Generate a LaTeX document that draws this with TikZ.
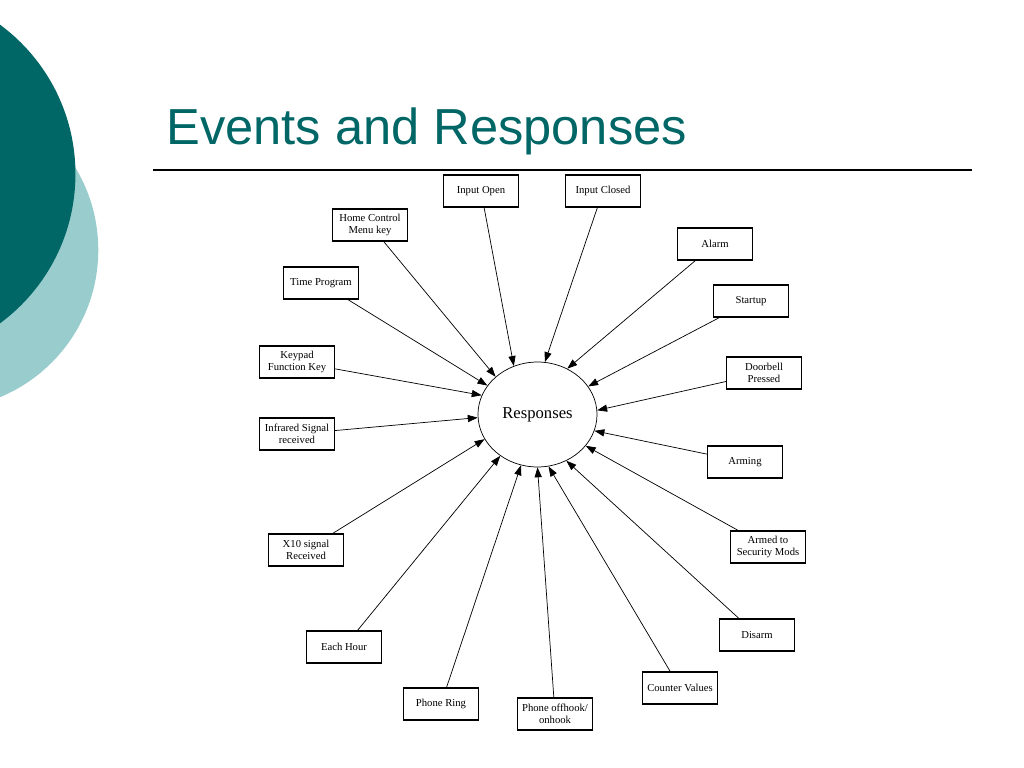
\documentclass[tikz,border=0pt]{standalone}
\usepackage{fontspec}
\setmainfont{Liberation Serif}
\newfontfamily\titlefont{Liberation Sans}
\usetikzlibrary{arrows.meta,shapes.geometric}
\definecolor{slideteal}{RGB}{0,102,102}
\definecolor{slidelight}{RGB}{153,204,204}
\tikzset{
	event/.style={draw, line width=1pt, minimum width=52.7pt, minimum height=22.5pt,
		inner sep=1pt, align=center, font=\fontsize{7.5}{8.4}\selectfont},
	flow/.style={-{Triangle[length=7pt,width=5pt]}, line width=0.5pt},
}
\begin{document}
\begin{tikzpicture}[x=0.703125pt,y=-0.703125pt]

			\useasboundingbox (0,0) rectangle (1024,768);

			% slide decoration
			\fill[slidelight] (-61,250) circle[radius=112pt];
			\fill[slideteal] (-110,174) circle[radius=130.4pt];

			\node[anchor=base west, inner sep=0, text=slideteal,
				font=\titlefont\fontsize{35.6}{40}\selectfont] (title) at (166,145) {Events and Responses};
			\coordinate (rulel) at (153,170);
			\coordinate (ruler) at (972,170);
			\draw[line width=0.8pt] (rulel) -- (ruler);

			\node[draw, ellipse, line width=0.5pt, inner sep=0, minimum width=83.7pt,
				minimum height=73.8pt, font=\fontsize{11.7}{14}\selectfont] (resp) at (537.5,414.5) {Responses};

			\node[event] (inopen) at (481,191) {Input Open};
			\node[event] (inclosed) at (603,191) {Input Closed};
			\node[event] (homekey) at (370,225) {Home Control\\Menu key};
			\node[event] (timeprog) at (321,283) {Time Program};
			\node[event] (keypad) at (297,362) {Keypad\\Function Key};
			\node[event] (infrared) at (297,434) {Infrared Signal\\received};
			\node[event] (xten) at (306,550) {X10 signal\\Received};
			\node[event] (hour) at (344,647) {Each Hour};
			\node[event] (ring) at (441,704) {Phone Ring};
			\node[event] (offhook) at (555,714) {Phone offhook/\\onhook};
			\node[event] (counter) at (680,688) {Counter Values};
			\node[event] (disarm) at (757,635) {Disarm};
			\node[event] (armedto) at (768,547) {Armed to\\Security Mods};
			\node[event] (arming) at (745,462) {Arming};
			\node[event] (doorbell) at (764,373) {Doorbell\\Pressed};
			\node[event] (startup) at (751,301) {Startup};
			\node[event] (alarm) at (715,244) {Alarm};

			\draw[flow] (inopen) -- (resp.116);
			\draw[flow] (inclosed) -- (resp.82);
			\draw[flow] (homekey) -- (resp.138);
			\draw[flow] (timeprog) -- (resp.150);
			\draw[flow] (keypad) -- (resp.161);
			\draw[flow] (infrared) -- (resp.183);
			\draw[flow] (xten) -- (resp.205);
			\draw[flow] (hour) -- (resp.228);
			\draw[flow] (ring) -- (resp.252);
			\draw[flow] (offhook) -- (resp.270);
			\draw[flow] (counter) -- (resp.282);
			\draw[flow] (disarm) -- (resp.302);
			\draw[flow] (armedto) -- (resp.327);
			\draw[flow] (arming) -- (resp.344);
			\draw[flow] (doorbell) -- (resp.4);
			\draw[flow] (startup) -- (resp.29);
			\draw[flow] (alarm) -- (resp.57);

		\end{tikzpicture}
\end{document}
